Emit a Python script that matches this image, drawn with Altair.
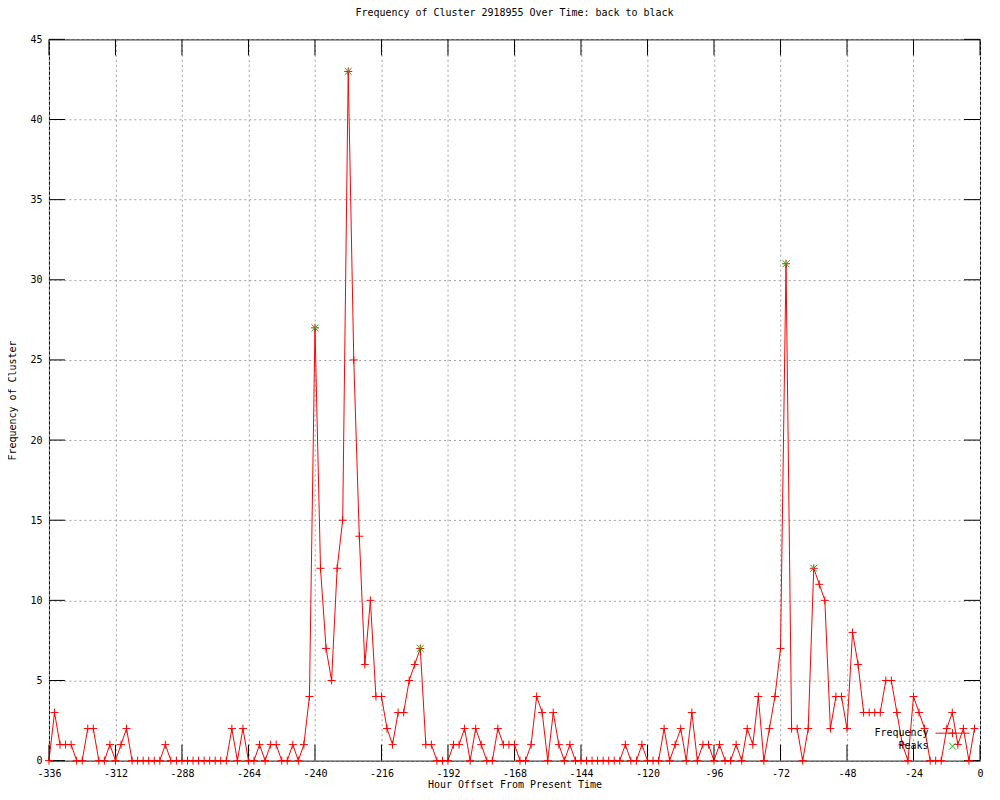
import altair as alt
import pandas as pd

# ---------------- data ----------------
hours = list(range(-336, 0, 2))
frequency = [
    0, 3, 1, 1, 1, 0, 0, 2, 2, 0, 0, 1,
    0, 1, 2, 0, 0, 0, 0, 0, 0, 1, 0, 0,
    0, 0, 0, 0, 0, 0, 0, 0, 0, 2, 0, 2,
    0, 0, 1, 0, 1, 1, 0, 0, 1, 0, 1, 4,
    27, 12, 7, 5, 12, 15, 43, 25, 14, 6, 10, 4,
    4, 2, 1, 3, 3, 5, 6, 7, 1, 1, 0, 0,
    0, 1, 1, 2, 0, 2, 1, 0, 0, 2, 1, 1,
    1, 0, 0, 1, 4, 3, 0, 3, 1, 0, 1, 0,
    0, 0, 0, 0, 0, 0, 0, 0, 1, 0, 0, 1,
    0, 0, 0, 2, 0, 1, 2, 0, 3, 0, 1, 1,
    0, 1, 0, 0, 1, 0, 2, 1, 4, 0, 2, 4,
    7, 31, 2, 2, 0, 2, 12, 11, 10, 2, 4, 4,
    2, 8, 6, 3, 3, 3, 3, 5, 5, 3, 1, 0,
    4, 3, 2, 0, 0, 0, 2, 3, 1, 2, 0, 2,
]
peak_hours = [-240, -228, -202, -70, -60]
peak_values = [27, 43, 7, 31, 12]
x_ticks = [-336, -312, -288, -264, -240, -216, -192, -168, -144, -120, -96, -72, -48, -24, 0]
y_ticks = [0, 5, 10, 15, 20, 25, 30, 35, 40, 45]
legend_labels = ["Frequency", "Peaks"]
title_text = "Frequency of Cluster 2918955 Over Time: back to black"
x_title = "Hour Offset From Present Time"
y_title = "Frequency of Cluster"

# ---------------- style ----------------
W, H = 932, 722
FONT = "DejaVu Sans Mono"
RED = "#ff0000"
GREEN = "#00c000"
PLUS = "M-1,0H1M0,-1V1"
CROSS = "M-1,-1L1,1M-1,1L1,-1"
TICK = 16

df = pd.DataFrame({"hour": hours, "freq": frequency})
pk = pd.DataFrame({"hour": peak_hours, "freq": peak_values})
xt = pd.DataFrame({"hour": x_ticks})
yt = pd.DataFrame({"freq": y_ticks})
one = pd.DataFrame({"a": [0]})

xscale = alt.Scale(domain=[-336, 0], nice=False, zero=False)
yscale = alt.Scale(domain=[0, 45], nice=False, zero=False)

x_axis = alt.Axis(
    values=x_ticks, title=x_title, grid=True, ticks=False, domain=False,
    labelExpr="datum.value + ''", labelPadding=8, labelFlush=False,
    titleY=24, titleBaseline="middle",
)
y_axis = alt.Axis(
    values=y_ticks, title=y_title, grid=True, ticks=False, domain=False,
    labelExpr="datum.value + ''", labelPadding=7,
    titleX=-36, titleY=H / 2, titleBaseline="middle", titleAlign="center", titleAngle=-90,
)


def X():
    return alt.X("hour:Q", scale=xscale, axis=x_axis)


def Y():
    return alt.Y("freq:Q", scale=yscale, axis=y_axis)


line = alt.Chart(df).mark_line(color=RED, strokeWidth=1, interpolate="linear").encode(x=X(), y=Y())
pts = alt.Chart(df).mark_point(shape=PLUS, size=64, filled=False, color=RED,
                               strokeWidth=1, opacity=1).encode(x=X(), y=Y())
peaks = alt.Chart(pk).mark_point(shape=CROSS, size=49, filled=False, color=GREEN,
                                 strokeWidth=1, opacity=1).encode(x=X(), y=Y())

tick_style = dict(color="black", strokeWidth=1)
t_bottom = alt.Chart(xt).mark_rule(**tick_style).encode(
    x=X(), y=alt.value(H), y2=alt.value(H - TICK))
t_top = alt.Chart(xt).mark_rule(**tick_style).encode(
    x=X(), y=alt.value(0), y2=alt.value(TICK))
t_left = alt.Chart(yt).mark_rule(**tick_style).encode(
    y=Y(), x=alt.value(0), x2=alt.value(TICK))
t_right = alt.Chart(yt).mark_rule(**tick_style).encode(
    y=Y(), x=alt.value(W), x2=alt.value(W - TICK))

# legend (gnuplot-style key: label then sample)
LX, LY1, LY2 = 880.5, 694.5, 707.5
leg_t1 = alt.Chart(pd.DataFrame({"label": [legend_labels[0]]})).mark_text(
    align="right", baseline="middle", font=FONT, fontSize=10, color="black").encode(
    text="label:N", x=alt.value(LX), y=alt.value(LY1))
leg_t2 = alt.Chart(pd.DataFrame({"label": [legend_labels[1]]})).mark_text(
    align="right", baseline="middle", font=FONT, fontSize=10, color="black").encode(
    text="label:N", x=alt.value(LX), y=alt.value(LY2))
leg_line = alt.Chart(one).mark_rule(color=RED, strokeWidth=1).encode(
    x=alt.value(LX + 7), x2=alt.value(LX + 41), y=alt.value(LY1))
leg_plus = alt.Chart(one).mark_point(shape=PLUS, size=64, filled=False, color=RED,
                                     strokeWidth=1, opacity=1).encode(
    x=alt.value(LX + 24), y=alt.value(LY1))
leg_cross = alt.Chart(one).mark_point(shape=CROSS, size=49, filled=False, color=GREEN,
                                      strokeWidth=1, opacity=1).encode(
    x=alt.value(LX + 24), y=alt.value(LY2))

chart = alt.layer(
    line, t_bottom, t_top, t_left, t_right, pts, peaks,
    leg_line, leg_plus, leg_cross, leg_t1, leg_t2,
).properties(
    width=W, height=H,
    title=alt.TitleParams(text=title_text, font=FONT, fontSize=10, fontWeight="normal",
                          anchor="middle", offset=16, color="black"),
    padding={"left": 41, "top": 31, "right": 12, "bottom": 32},
    autosize=alt.AutoSizeParams(type="none"),
).configure(
    background="white",
).configure_view(
    stroke="black", strokeWidth=1,
).configure_axis(
    labelFont=FONT, labelFontSize=10, labelColor="black",
    titleFont=FONT, titleFontSize=10, titleFontWeight="normal", titleColor="black",
    gridColor="#a0a0a0", gridDash=[2, 3], gridWidth=1, gridOpacity=1,
)

chart.save("out.html", embed_options={"renderer": "svg", "actions": False})
